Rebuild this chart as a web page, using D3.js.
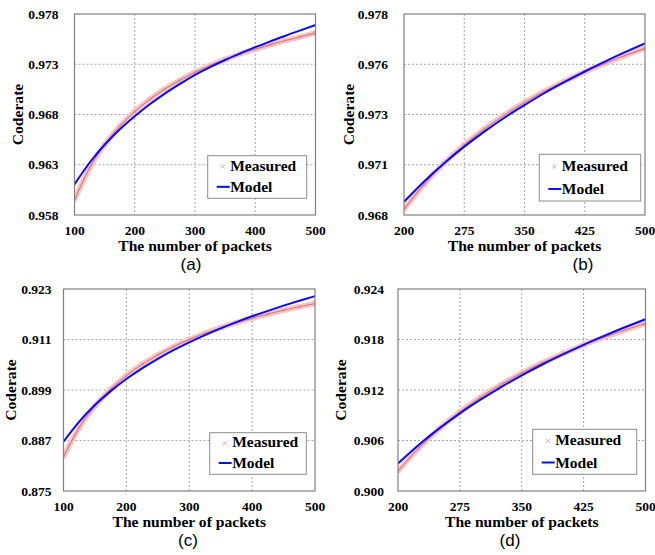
<!DOCTYPE html>
<html>
<head>
<meta charset="utf-8">
<script src="https://cdn.jsdelivr.net/npm/d3@7"></script>
<style>
  body { margin: 0; background: #fff; }
  svg { display: block; }
</style>
</head>
<body>
<div id="chart"></div>
<script>
/*---------- DATA ----------*/
// (a) 100..500 packets
const packetsA = [100, 125, 150, 175, 200, 225, 250, 275, 300, 325, 350, 375, 400, 425, 450, 475, 500];
const measuredA = [0.95950, 0.96267, 0.96500, 0.96682, 0.96829, 0.96950, 0.97053, 0.97141, 0.97220,
  0.97288, 0.97348, 0.97402, 0.97450, 0.97495, 0.97536, 0.97573, 0.97612];
const modelA = [0.96105, 0.96320, 0.96499, 0.96651, 0.96783, 0.96902, 0.97008, 0.97104, 0.97195,
  0.97272, 0.97342, 0.97407, 0.97470, 0.97527, 0.97584, 0.97637, 0.97690];
const xTicksA = [100, 200, 300, 400, 500];
const yTicksA = [0.958, 0.963, 0.968, 0.973, 0.978];
const yLabelsA = ["0.958", "0.963", "0.968", "0.973", "0.978"];

// (b) 200..500 packets
const packetsB = [200, 225, 250, 275, 300, 325, 350, 375, 400, 425, 450, 475, 500];
const measuredB = [0.96828, 0.96952, 0.97058, 0.97149, 0.97228, 0.97297, 0.97360, 0.97416, 0.97466,
  0.97512, 0.97554, 0.97593, 0.97629];
const modelB = [0.96866, 0.96967, 0.97058, 0.97140, 0.97215, 0.97284, 0.97347, 0.97407, 0.97462,
  0.97514, 0.97563, 0.97610, 0.97654];
const xTicksB = [200, 275, 350, 425, 500];
const yTicksB = [0.968, 0.9705, 0.973, 0.9755, 0.978];
const yLabelsB = ["0.968", "0.971", "0.973", "0.976", "0.978"];

// (c) 100..500 packets
const packetsC = [100, 125, 150, 175, 200, 225, 250, 275, 300, 325, 350, 375, 400, 425, 450, 475, 500];
const measuredC = [0.88312, 0.89008, 0.89521, 0.89920, 0.90242, 0.90509, 0.90734, 0.90928, 0.91097,
  0.91247, 0.91380, 0.91499, 0.91607, 0.91705, 0.91796, 0.91878, 0.91955];
const modelC = [0.88670, 0.89150, 0.89542, 0.89873, 0.90160, 0.90413, 0.90640, 0.90845, 0.91032,
  0.91204, 0.91364, 0.91512, 0.91651, 0.91781, 0.91904, 0.92020, 0.92130];
const xTicksC = [100, 200, 300, 400, 500];
const yTicksC = [0.875, 0.887, 0.899, 0.911, 0.923];
const yLabelsC = ["0.875", "0.887", "0.899", "0.911", "0.923"];

// (d) 200..500 packets
const packetsD = [200, 225, 250, 275, 300, 325, 350, 375, 400, 425, 450, 475, 500];
const measuredD = [0.90236, 0.90509, 0.90740, 0.90939, 0.91112, 0.91265, 0.91401, 0.91523, 0.91634,
  0.91735, 0.91827, 0.91912, 0.91990];
const modelD = [0.90327, 0.90547, 0.90744, 0.90923, 0.91085, 0.91235, 0.91374, 0.91503, 0.91623,
  0.91737, 0.91843, 0.91945, 0.92041];
const xTicksD = [200, 275, 350, 425, 500];
const yTicksD = [0.900, 0.906, 0.912, 0.918, 0.924];
const yLabelsD = ["0.900", "0.906", "0.912", "0.918", "0.924"];

const seriesNames = ["Measured", "Model"];

/*---------- LAYOUT ----------*/
const panels = [
  { id: "a", packets: packetsA, measured: measuredA, model: modelA, xTicks: xTicksA, yTicks: yTicksA, yLabels: yLabelsA,
    left: 74.5, right: 315.5, top: 14, bottom: 215, gap: 16, titleX: 23, tagX: 191,
    legend: { x: 207.7, y: 155.7, w: 99, h: 42.6 } },
  { id: "b", packets: packetsB, measured: measuredB, model: modelB, xTicks: xTicksB, yTicks: yTicksB, yLabels: yLabelsB,
    left: 404, right: 645, top: 14, bottom: 215, gap: 16, titleX: 354, tagX: 583,
    legend: { x: 539.3, y: 154.3, w: 101.4, h: 46.7 } },
  { id: "c", packets: packetsC, measured: measuredC, model: modelC, xTicks: xTicksC, yTicks: yTicksC, yLabels: yLabelsC,
    left: 63.5, right: 315, top: 289, bottom: 491, gap: 12, titleX: 15.5, tagX: 188,
    legend: { x: 209.7, y: 432.7, w: 96.6, h: 41.6 } },
  { id: "d", packets: packetsD, measured: measuredD, model: modelD, xTicks: xTicksD, yTicks: yTicksD, yLabels: yLabelsD,
    left: 398, right: 645.5, top: 289, bottom: 491, gap: 14, titleX: 346, tagX: 510,
    legend: { x: 532.7, y: 429.3, w: 104, h: 45 } },
];

const serif = "'Liberation Serif', 'Times New Roman', serif";
const sans = "'Liberation Sans', Arial, sans-serif";

const svg = d3.select("#chart").append("svg")
  .attr("width", 655)
  .attr("height", 555);

svg.append("rect").attr("width", 655).attr("height", 555).attr("fill", "#fff");

function drawPanel(p) {
  const x = d3.scaleLinear()
    .domain([p.xTicks[0], p.xTicks[p.xTicks.length - 1]])
    .range([p.left, p.right]);
  const y = d3.scaleLinear()
    .domain([p.yTicks[0], p.yTicks[p.yTicks.length - 1]])
    .range([p.bottom, p.top]);

  const g = svg.append("g").attr("class", "panel-" + p.id);

  // Grid lines (dotted)
  g.selectAll("line.gx")
    .data(p.xTicks.slice(1, -1))
    .join("line")
    .attr("class", "gx")
    .attr("x1", (d) => x(d)).attr("x2", (d) => x(d))
    .attr("y1", p.top).attr("y2", p.bottom)
    .attr("stroke", "#a6a6a6")
    .attr("stroke-width", 1)
    .attr("stroke-dasharray", "2,2");

  g.selectAll("line.gy")
    .data(p.yTicks.slice(1, -1))
    .join("line")
    .attr("class", "gy")
    .attr("x1", p.left).attr("x2", p.right)
    .attr("y1", (d) => y(d)).attr("y2", (d) => y(d))
    .attr("stroke", "#a6a6a6")
    .attr("stroke-width", 1)
    .attr("stroke-dasharray", "2,2");

  // Clip the curves to the plot area
  const clipId = "clip-" + p.id;
  g.append("clipPath").attr("id", clipId)
    .append("rect")
    .attr("x", p.left).attr("y", p.top)
    .attr("width", p.right - p.left).attr("height", p.bottom - p.top);

  const plot = g.append("g").attr("clip-path", `url(#${clipId})`);

  const line = d3.line()
    .x((d) => x(d[0]))
    .y((d) => y(d[1]))
    .curve(d3.curveMonotoneX);

  const measPts = p.packets.map((n, i) => [n, p.measured[i]]);
  const modelPts = p.packets.map((n, i) => [n, p.model[i]]);

  // Measured: dense cross markers drawn as a pink band
  plot.append("path")
    .datum(measPts)
    .attr("d", line)
    .attr("fill", "none")
    .attr("stroke", "#f7c6c6")
    .attr("stroke-width", 5.5);

  plot.selectAll("path.mark")
    .data(measPts)
    .join("path")
    .attr("class", "mark")
    .attr("d", "M-2.2,-2.2L2.2,2.2M-2.2,2.2L2.2,-2.2")
    .attr("transform", (d) => `translate(${x(d[0])},${y(d[1])})`)
    .attr("stroke", "#ef9c9c")
    .attr("stroke-width", 0.8)
    .attr("fill", "none");

  plot.append("path")
    .datum(measPts)
    .attr("d", line)
    .attr("fill", "none")
    .attr("stroke", "#d87878")
    .attr("stroke-width", 1.1);

  // Model
  plot.append("path")
    .datum(modelPts)
    .attr("d", line)
    .attr("fill", "none")
    .attr("stroke", "#0a0aff")
    .attr("stroke-width", 2);

  // Frame
  g.append("rect")
    .attr("x", p.left).attr("y", p.top)
    .attr("width", p.right - p.left).attr("height", p.bottom - p.top)
    .attr("fill", "none")
    .attr("stroke", "#808080")
    .attr("stroke-width", 1.2);

  // Tick labels
  g.selectAll("text.xl")
    .data(p.xTicks)
    .join("text")
    .attr("class", "xl")
    .attr("x", (d) => x(d))
    .attr("y", p.bottom + 20)
    .attr("text-anchor", "middle")
    .attr("font-family", serif)
    .attr("font-weight", "bold")
    .attr("font-size", "13.5px")
    .text((d) => d);

  g.selectAll("text.yl")
    .data(p.yTicks)
    .join("text")
    .attr("class", "yl")
    .attr("x", p.left - p.gap)
    .attr("y", (d) => y(d))
    .attr("dy", "0.35em")
    .attr("text-anchor", "end")
    .attr("font-family", serif)
    .attr("font-weight", "bold")
    .attr("font-size", "13.5px")
    .text((d, i) => p.yLabels[i]);

  // Axis titles
  g.append("text")
    .attr("x", (p.left + p.right) / 2)
    .attr("y", p.bottom + 35.5)
    .attr("text-anchor", "middle")
    .attr("font-family", serif)
    .attr("font-weight", "bold")
    .attr("font-size", "15.6px")
    .text("The number of packets");

  const cy = (p.top + p.bottom) / 2;
  g.append("text")
    .attr("transform", `translate(${p.titleX},${cy}) rotate(-90)`)
    .attr("text-anchor", "middle")
    .attr("font-family", serif)
    .attr("font-weight", "bold")
    .attr("font-size", "15.6px")
    .text("Coderate");

  // Panel tag
  g.append("text")
    .attr("x", p.tagX)
    .attr("y", p.bottom + 55)
    .attr("text-anchor", "middle")
    .attr("font-family", sans)
    .attr("font-size", "17px")
    .text(`(${p.id})`);

  // Legend
  const L = p.legend;
  const lg = g.append("g").attr("transform", `translate(${L.x},${L.y})`);
  lg.append("rect")
    .attr("width", L.w).attr("height", L.h)
    .attr("fill", "#fff")
    .attr("stroke", "#8c8c8c")
    .attr("stroke-width", 1);

  const rowY = [L.h * 0.35, L.h * 0.86];
  lg.append("path")
    .attr("d", "M-2,-2L2,2M-2,2L2,-2")
    .attr("transform", `translate(15,${rowY[0] - 4})`)
    .attr("stroke", "#ef9c9c")
    .attr("stroke-width", 0.9)
    .attr("fill", "none");
  lg.append("line")
    .attr("x1", 9).attr("x2", 22)
    .attr("y1", rowY[1] - 5.5).attr("y2", rowY[1] - 5.5)
    .attr("stroke", "#0a0aff")
    .attr("stroke-width", 2);

  lg.selectAll("text")
    .data(seriesNames)
    .join("text")
    .attr("x", 22.5)
    .attr("y", (d, i) => rowY[i])
    .attr("font-family", serif)
    .attr("font-weight", "bold")
    .attr("font-size", "15.5px")
    .text((d) => d);
}

panels.forEach(drawPanel);
</script>
</body>
</html>
